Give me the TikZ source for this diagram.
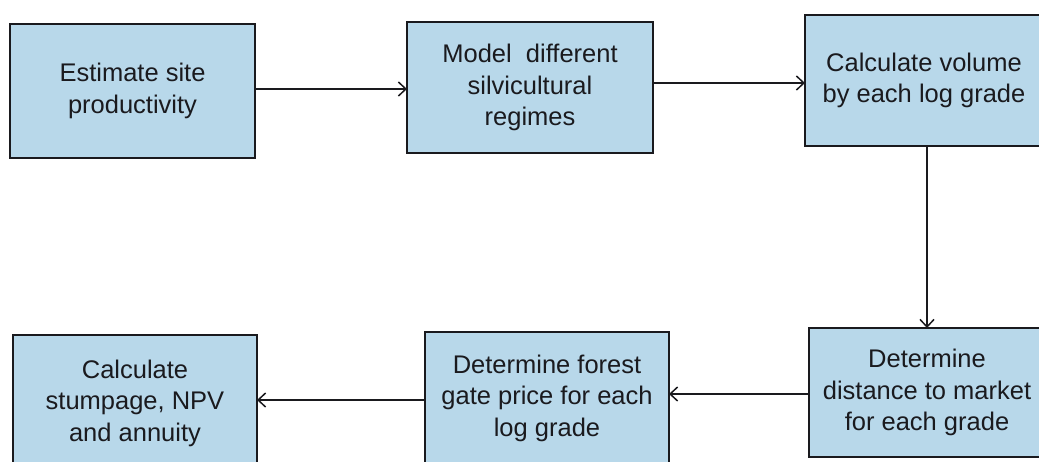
\documentclass[tikz,border=0pt]{standalone}
\usepackage{fontspec}
\setmainfont{Liberation Sans}
\usetikzlibrary{arrows.meta}
\definecolor{boxfill}{RGB}{184,216,234}
\definecolor{ink}{RGB}{26,26,30}
\tikzset{
  stepbox/.style={draw=ink, line width=2pt, fill=boxfill, rectangle, inner sep=0pt, outer sep=0pt,
    align=center, text=ink, font=\fontsize{25.5}{31.5}\selectfont},
  conn/.style={draw=ink, line width=1.6pt, -{Straight Barb[length=7.5pt,width=14pt,line width=1.5pt]}}
}
\begin{document}
\begin{tikzpicture}[x=1pt,y=-1pt]
\useasboundingbox (0,0) rectangle (1039,461);
\clip (0,0) rectangle (1039,461);
\node[stepbox, minimum width=245pt, minimum height=134pt] (b1) at (132.5,91) {Estimate site\\productivity};
\node[stepbox, minimum width=246pt, minimum height=131pt] (b2) at (530,87.5) {Model\ \ different\\silvicultural\\regimes};
\node[stepbox, minimum width=238pt, minimum height=131pt] (b3) at (924,80.5) {Calculate volume\\by each log grade};
\node[stepbox, minimum width=237pt, minimum height=129pt] (b4) at (927,392.5) {Determine\\distance to market\\for each grade};
\node[stepbox, minimum width=244pt, minimum height=132pt] (b5) at (547,398) {Determine forest\\gate price for each\\log grade};
\node[stepbox, minimum width=244pt, minimum height=136pt] (b6) at (135,403) {Calculate\\stumpage, NPV\\and annuity};
\draw[conn] (b1.east |- 0,89) -- (b2.west |- 0,89);
\draw[conn] (b2.east |- 0,83) -- (b3.west |- 0,83);
\draw[conn] (b4.north |- b3.south) -- (b4.north);
\draw[conn] (b4.west |- 0,394) -- (b5.east |- 0,394);
\draw[conn] (b5.west |- 0,400) -- (b6.east |- 0,400);
\end{tikzpicture}
\end{document}
